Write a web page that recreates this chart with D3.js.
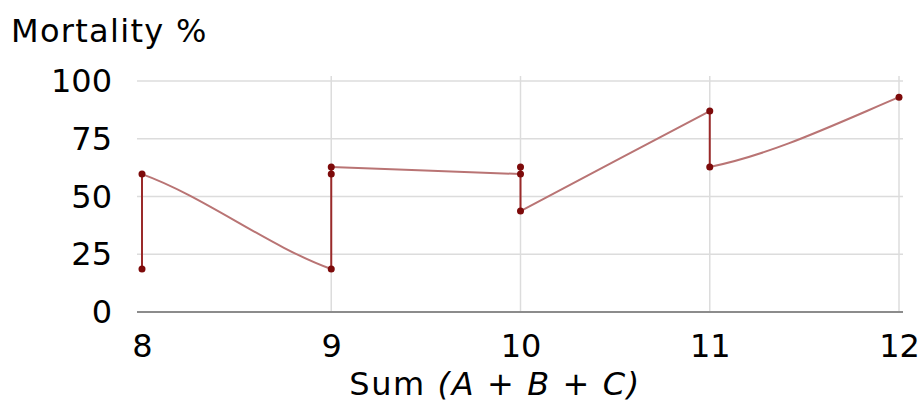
<!DOCTYPE html>
<html><head><meta charset="utf-8">
<script src="https://cdn.jsdelivr.net/npm/d3@7"></script>
<style>
html,body{margin:0;padding:0;background:#fff;}
text{font-family:"DejaVu Sans",Verdana,sans-serif;fill:#000;}
</style></head>
<body><svg id="chart" width="924" height="404"></svg>
<script>
// ---- data ----
const sums = [8, 9, 10, 11, 12];
const xTicks = [8, 9, 10, 11, 12];
const yTicks = [0, 25, 50, 75, 100];
// observed mortality values at each sum
const valuesAtSum = [
  [18.6, 59.7],
  [18.6, 59.7, 62.8],
  [62.8, 59.7, 43.7],
  [87, 62.8],
  [93]
];
// value where the connecting curve arrives from the left / leaves to the right
const entryValue = [null, 18.6, 59.7, 87, 93];
const exitValue  = [59.7, 62.8, 43.7, 62.8, null];
const yTitle = "Mortality %";

// ---- layout ----
const svg = d3.select("#chart");
const x = d3.scaleLinear().domain([8, 12]).range([142, 899]);
const y = d3.scaleLinear().domain([0, 100]).range([312, 81]);
const gridLeft = 137, gridRight = 903;

// grid
svg.append("g").selectAll("line.h").data(yTicks.filter(d => d > 0)).join("line")
  .attr("x1", gridLeft).attr("x2", gridRight)
  .attr("y1", d => y(d)).attr("y2", d => y(d))
  .attr("stroke", "#dcdcdc").attr("stroke-width", 1.5);
svg.append("g").selectAll("line.v").data(xTicks.filter(d => d > 8)).join("line")
  .attr("x1", d => x(d)).attr("x2", d => x(d))
  .attr("y1", 76).attr("y2", y(0))
  .attr("stroke", "#dcdcdc").attr("stroke-width", 1.5);

// x axis line
svg.append("line").attr("x1", gridLeft).attr("x2", gridRight)
  .attr("y1", y(0)).attr("y2", y(0)).attr("stroke", "#8c8c8c").attr("stroke-width", 2);

// y tick labels
const yAxis = d3.axisLeft(y).tickValues(yTicks).tickSize(0).tickPadding(0);
const gy = svg.append("g").attr("transform", "translate(112,0)").call(yAxis);
gy.select(".domain").remove();
gy.selectAll("text").attr("font-size", 32).attr("font-family", "DejaVu Sans, Verdana, sans-serif")
  .attr("fill", "#000").attr("dy", "0.33em");

// x tick labels
const xAxis = d3.axisBottom(x).tickValues(xTicks).tickSize(0).tickPadding(0).tickFormat(d3.format("d"));
const gx = svg.append("g").attr("transform", "translate(0,334)").call(xAxis);
gx.select(".domain").remove();
gx.selectAll("text").attr("font-size", 32).attr("font-family", "DejaVu Sans, Verdana, sans-serif")
  .attr("fill", "#000").attr("dy", "0.71em");

// titles
svg.append("text").attr("x", 11).attr("y", 42).attr("font-size", 32)
  .attr("letter-spacing", 1.3).text(yTitle);
const xt = svg.append("text").attr("x", 495).attr("y", 395).attr("font-size", 32)
  .attr("text-anchor", "middle").attr("letter-spacing", 1.6);
xt.append("tspan").text("Sum ");
xt.append("tspan").attr("font-style", "italic").text("(A");
xt.append("tspan").text(" + ");
xt.append("tspan").attr("font-style", "italic").text("B");
xt.append("tspan").text(" + ");
xt.append("tspan").attr("font-style", "italic").text("C)");

// vertical ranges at each sum
svg.append("g").selectAll("line").data(sums.map((s, i) => ({s, v: valuesAtSum[i]})).filter(d => d.v.length > 1))
  .join("line")
  .attr("x1", d => x(d.s)).attr("x2", d => x(d.s))
  .attr("y1", d => y(d3.max(d.v))).attr("y2", d => y(d3.min(d.v)))
  .attr("stroke", "#9a2a2a").attr("stroke-width", 2);

// connecting curves (cubic Hermite, tangents as multiples of chord slope)
const tangentShape = [[0.72, 0.72], [1, 1], [1, 1], [0.55, 1.15]];
const curves = svg.append("g");
for (let i = 0; i < sums.length - 1; i++) {
  const x0 = x(sums[i]), y0 = y(exitValue[i]);
  const x1 = x(sums[i + 1]), y1 = y(entryValue[i + 1]);
  const h = x1 - x0, chord = (y1 - y0) / h;
  const m0 = tangentShape[i][0] * chord, m1 = tangentShape[i][1] * chord;
  const p = d3.path();
  p.moveTo(x0, y0);
  p.bezierCurveTo(x0 + h / 3, y0 + m0 * h / 3, x1 - h / 3, y1 - m1 * h / 3, x1, y1);
  curves.append("path").attr("d", p.toString()).attr("fill", "none")
    .attr("stroke", "#b97474").attr("stroke-width", 2);
}

// dots
const pts = [];
sums.forEach((s, i) => valuesAtSum[i].forEach(v => pts.push({s, v})));
svg.append("g").selectAll("circle").data(pts).join("circle")
  .attr("cx", d => x(d.s)).attr("cy", d => y(d.v)).attr("r", 3.5)
  .attr("fill", "#7d0a0a");
</script></body></html>
